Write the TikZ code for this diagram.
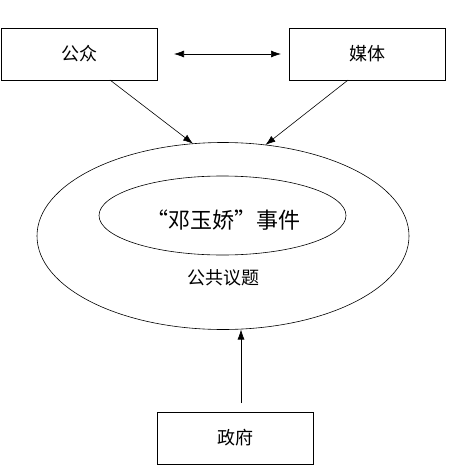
\documentclass[tikz,border=0pt]{standalone}
\usepackage{fontspec}
\setmainfont{Noto Sans CJK SC}
\usetikzlibrary{shapes.geometric, arrows.meta}

\tikzset{
	box/.style={draw, minimum width=156pt, minimum height=52pt, inner sep=0pt, outer sep=0pt, font=\fontsize{18pt}{18pt}\selectfont},
	ring/.style={draw, ellipse, inner sep=0pt, outer sep=0pt},
	tip/.tip={Latex[length=10pt, width=7pt]}
}

\begin{document}
\begin{tikzpicture}[x=1pt, y=-1pt, line width=0.6pt]
		\useasboundingbox (0,0) rectangle (448,471);

		\node[box] (pub)   at ( 79, 54) {公众};
		\node[box] (media) at (367, 54) {媒体};
		\node[box] (gov)   at (235,438) {政府};

		\node[ring, minimum width=372pt, minimum height=187pt] (issue) at (223,236) {};
		\node[ring, minimum width=247pt, minimum height=79pt]  (event) at (222.5,215.5) {};

		\node[font=\fontsize{22pt}{22pt}\selectfont] (eventtext) at (223,220) {“邓玉娇”事件};
		\node[font=\fontsize{18pt}{18pt}\selectfont] (issuetext) at (223,278) {公共议题};

		\draw[tip-tip] ([xshift=17pt]pub.east) -- ([xshift=-8pt]media.west);
		\draw[-tip] (pub.-40) -- (issue.108);
		\draw[-tip] (media.234) -- (issue.65);

		\coordinate (G) at ([xshift=6pt, yshift=9pt]gov.north);
		\draw[-tip] (G) -- (G |- issue.south);

	\end{tikzpicture}
\end{document}
